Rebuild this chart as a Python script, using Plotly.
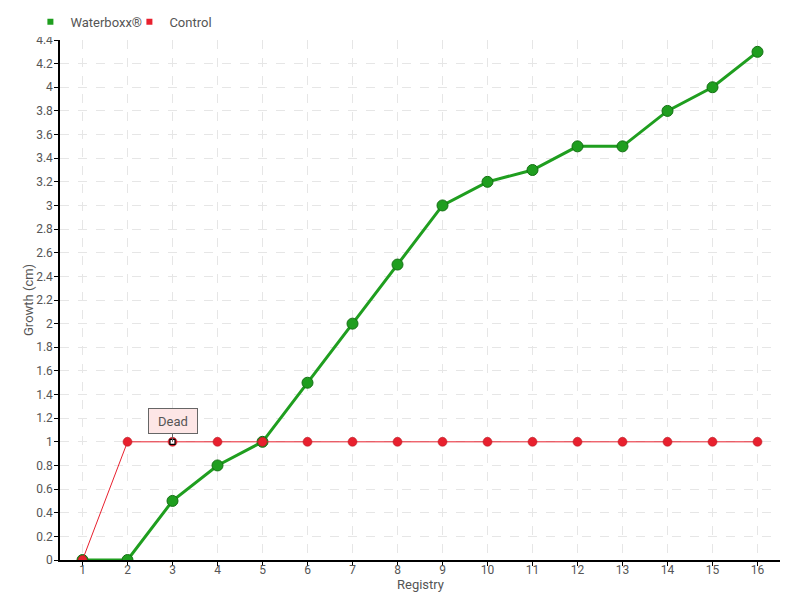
import plotly.graph_objects as go

registry = list(range(1, 17))
waterboxx = [0, 0, 0.5, 0.8, 1.0, 1.5, 2.0, 2.5, 3.0, 3.2, 3.3, 3.5, 3.5, 3.8, 4.0, 4.3]
control = [0, 1, 1, 1, 1, 1, 1, 1, 1, 1, 1, 1, 1, 1, 1, 1]
y_ticks = [round(i * 0.2, 1) for i in range(23)]
dead_x = 3
dead_label = "Dead"

FONT = "Roboto, sans-serif"
GREEN = "#1f9e1f"
RED = "#e8202e"
TXT = "#555"

fig = go.Figure()
fig.add_trace(go.Scatter(
    x=registry, y=waterboxx, mode="lines+markers", name="Waterboxx®",
    line=dict(color=GREEN, width=3),
    marker=dict(size=11, color=GREEN, line=dict(color="#137013", width=1)),
    showlegend=False))
fig.add_trace(go.Scatter(
    x=registry, y=control, mode="lines+markers", name="Control",
    line=dict(color=RED, width=1),
    marker=dict(size=9, color=RED, line=dict(color="#b0151f", width=0.5)),
    showlegend=False))
fig.add_trace(go.Scatter(
    x=[dead_x], y=[control[dead_x - 1]], mode="markers",
    marker=dict(symbol="square", size=5, color="white", line=dict(color="black", width=1.2)),
    showlegend=False, hoverinfo="skip"))
# legend proxies
fig.add_trace(go.Scatter(x=[None], y=[None], mode="markers", name="Waterboxx®",
                         marker=dict(symbol="square", size=6, color=GREEN)))
fig.add_trace(go.Scatter(x=[None], y=[None], mode="markers", name="Control",
                         marker=dict(symbol="square", size=6, color=RED)))

fig.add_annotation(x=dead_x, y=control[dead_x - 1], text=dead_label,
                   showarrow=True, arrowhead=0, arrowcolor="#666", arrowwidth=1,
                   ax=0, ay=-21, bgcolor="#fde6e6", bordercolor="#666", borderwidth=1,
                   width=44, height=20, borderpad=2,
                   font=dict(family=FONT, size=13, color=TXT))
# axis titles
fig.add_annotation(x=0.5, y=0, xref="paper", yref="paper", text="Registry",
                   showarrow=False, xanchor="center", yanchor="middle", yshift=-24,
                   font=dict(size=13, color=TXT))
fig.add_annotation(x=0, y=0.5, xref="paper", yref="paper", text="Growth (cm)",
                   showarrow=False, textangle=-90, xanchor="center", yanchor="middle", xshift=-32,
                   font=dict(size=13, color=TXT))

fig.update_layout(
    width=800, height=600,
    margin=dict(l=52, r=28, t=32, b=48),
    paper_bgcolor="white", plot_bgcolor="white",
    font=dict(family=FONT, size=13, color=TXT),
    legend=dict(orientation="h", x=0.028, xref="container", y=0.977, yref="container",
                xanchor="left", yanchor="middle", entrywidth=54, entrywidthmode="pixels",
                font=dict(size=13, color=TXT), itemwidth=30, tracegroupgap=0),
)
fig.update_xaxes(
    range=[0.5, 16.5], tickmode="array", tickvals=registry, ticktext=[str(r) for r in registry],
    showline=True, linecolor="black", linewidth=1.5, ticks="outside", ticklen=4, tickcolor="black",
    showgrid=True, gridcolor="#e6e6e6", griddash="dash", gridwidth=1, zeroline=False,
    automargin=False, ticklabelstandoff=-6,
    tickfont=dict(size=12, color=TXT))
fig.update_yaxes(
    range=[0, 4.4], tickmode="array", tickvals=y_ticks, ticktext=[f"{v:g}" for v in y_ticks],
    showline=True, linecolor="black", linewidth=1.5, ticks="outside", ticklen=4, tickcolor="black",
    showgrid=True, gridcolor="#e6e6e6", griddash="dash", gridwidth=1, zeroline=False,
    automargin=False, ticklabelstandoff=-1,
    tickfont=dict(size=12, color=TXT))

fig.write_html("out.html")
